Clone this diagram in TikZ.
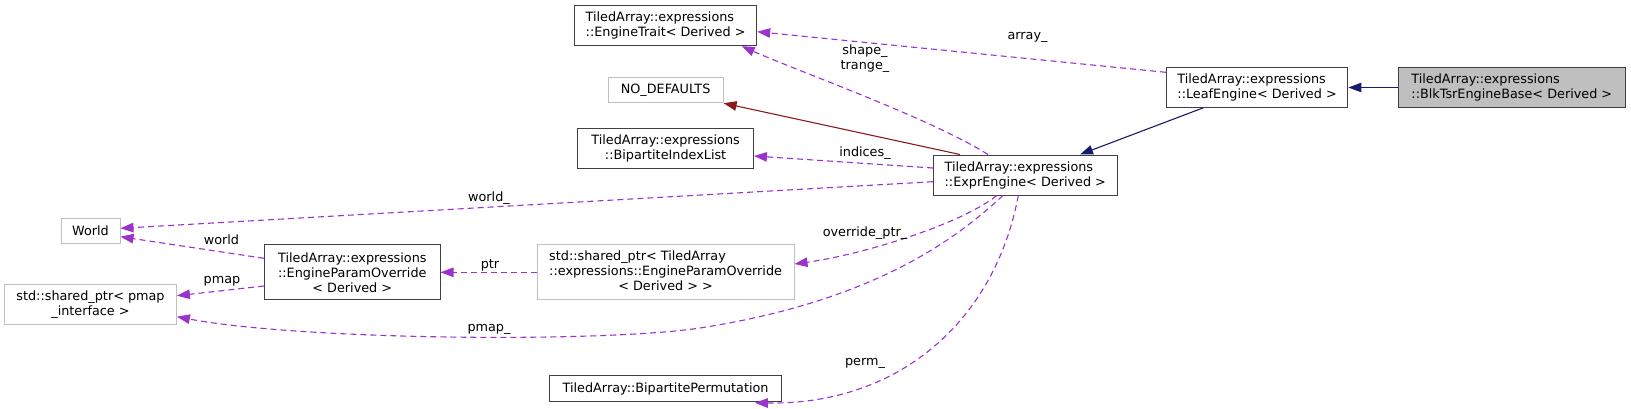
\documentclass[tikz,border=0pt]{standalone}
\usepackage{fontspec}
\setmainfont{DejaVu Sans}
\usetikzlibrary{arrows.meta,calc}
\definecolor{edgepurple}{HTML}{9A32CD}
\definecolor{edgenavy}{HTML}{191970}
\definecolor{edgered}{HTML}{8B1A1A}
\definecolor{greyline}{HTML}{BFBFBF}
\definecolor{boxline}{HTML}{404040}
\begin{document}
\begin{tikzpicture}[x=1pt,y=-1pt,
  every node/.style={font=\fontsize{12.8}{15}\selectfont, inner sep=0pt},
  docbox/.style n args={2}{draw=boxline, line width=1pt, rectangle, minimum width=#1, minimum height=#2, align=center},
  extbox/.style n args={2}{draw=greyline, line width=1pt, rectangle, minimum width=#1, minimum height=#2, align=center},
  lbl/.style={inner sep=0pt, align=center},
  tipstyle/.style={-{Triangle[length=13pt,width=9.5pt]}},
  usedge/.style={draw=edgepurple, dash pattern=on 6pt off 4pt, line width=1.1pt, tipstyle},
  inhedge/.style={draw=edgenavy, line width=1.1pt, tipstyle},
  privedge/.style={draw=edgered, line width=1.1pt, tipstyle}]
\useasboundingbox (0,0) rectangle (1631,408);

% nodes
\node[docbox={182.2pt}{40pt}, align=left] (et) at (665.6,25.7) {TiledArray::expressions\\::EngineTrait< Derived >};
\node[extbox={115pt}{25.4pt}] (nd) at (665.6,90) {NO\_DEFAULTS};
\node[docbox={175.7pt}{40pt}] (bil) at (665.6,148.7) {TiledArray::expressions\\::BipartiteIndexList};
\node[extbox={59pt}{25.4pt}] (world) at (90.5,231) {World};
\node[extbox={171.8pt}{40.4pt}] (pmap) at (90.5,304.5) {std::shared\_ptr< pmap\\\_interface >};
\node[docbox={175.4pt}{54.7pt}] (epo) at (352.3,272.3) {TiledArray::expressions\\::EngineParamOverride\\< Derived >};
\node[extbox={256.8pt}{54.7pt}] (sepo) at (665.6,272.3) {\begin{tabular}{@{}l@{}}std::shared\_ptr< TiledArray\\::expressions::EngineParamOverride\\\multicolumn{1}{@{}c@{}}{< Derived > >}\end{tabular}};
\node[docbox={232.2pt}{25.6pt}] (bp) at (665.6,388.5) {TiledArray::BipartitePermutation};
\node[docbox={184pt}{40pt}, align=left] (expr) at (1025.3,175) {TiledArray::expressions\\::ExprEngine< Derived >};
\node[docbox={181.6pt}{39.6pt}, align=left] (leaf) at (1257.1,87.5) {TiledArray::expressions\\::LeafEngine< Derived >};
\node[docbox={227.4pt}{39.6pt}, align=left, fill=greyline] (blk) at (1511.8,87.5) {TiledArray::expressions\\::BlkTsrEngineBase< Derived >};

% inheritance edges
\draw[inhedge] (blk.west) -- (leaf.east);
\draw[inhedge] ($(leaf.south)+(-53.8,0)$) -- ($(expr.north)+(54.7,0)$);
\draw[privedge] ($(expr.north)+(-65.3,0)$) -- (nd.south east);

% usage edges
\draw[usedge] ($(expr.north)+(-37.3,0)$) .. controls (930,118) and (800,72) .. ($(et.south)+(76.1,0)$);
\draw[usedge] ($(leaf.west)+(0,-15.2)$) -- ($(et.east)+(0,6)$);
\draw[usedge] ($(expr.west)+(0,-7)$) -- ($(bil.east)+(0,7.3)$);
\draw[usedge] ($(expr.west)+(0,6.7)$) -- ($(world.east)+(0,-2.7)$);
\draw[usedge] ($(epo.west)+(0,-14)$) -- ($(world.east)+(0,5.7)$);
\draw[usedge] ($(epo.west)+(0,13.7)$) -- ($(pmap.east)+(0,-8.8)$);
\draw[usedge] (sepo.west) -- (epo.east);
\draw[usedge] ($(expr.south)+(-28.6,0)$) .. controls (960,225) and (860,255) .. ($(sepo.east)+(0,-8.3)$);
\draw[usedge] ($(expr.south)+(-22.3,0)$) .. controls (960,235) and (880,300) .. (700,328)
   .. controls (600,343) and (300,340) .. ($(pmap.east)+(0,12.2)$);
\draw[usedge] ($(expr.south)+(-7,0)$) .. controls (995,320) and (900,405) .. ($(bp.south)+(89.3,1)$);

% labels
\node[lbl] (larray) at (1027.5,37.3) {array\_};
\node[lbl] (lshape) at (865,58.7) {shape\_\\trange\_};
\node[lbl] (lind) at (865,153) {indices\_};
\node[lbl] (lworldu) at (489,198.3) {world\_};
\node[lbl] (lworld) at (221.4,240) {world};
\node[lbl] (lpmap) at (222,281) {pmap};
\node[lbl] (lptr) at (490,265) {ptr};
\node[lbl] (lovr) at (865,232.7) {override\_ptr\_};
\node[lbl] (lpmapu) at (489,329) {pmap\_};
\node[lbl] (lperm) at (865,363.3) {perm\_};
\end{tikzpicture}
\end{document}
